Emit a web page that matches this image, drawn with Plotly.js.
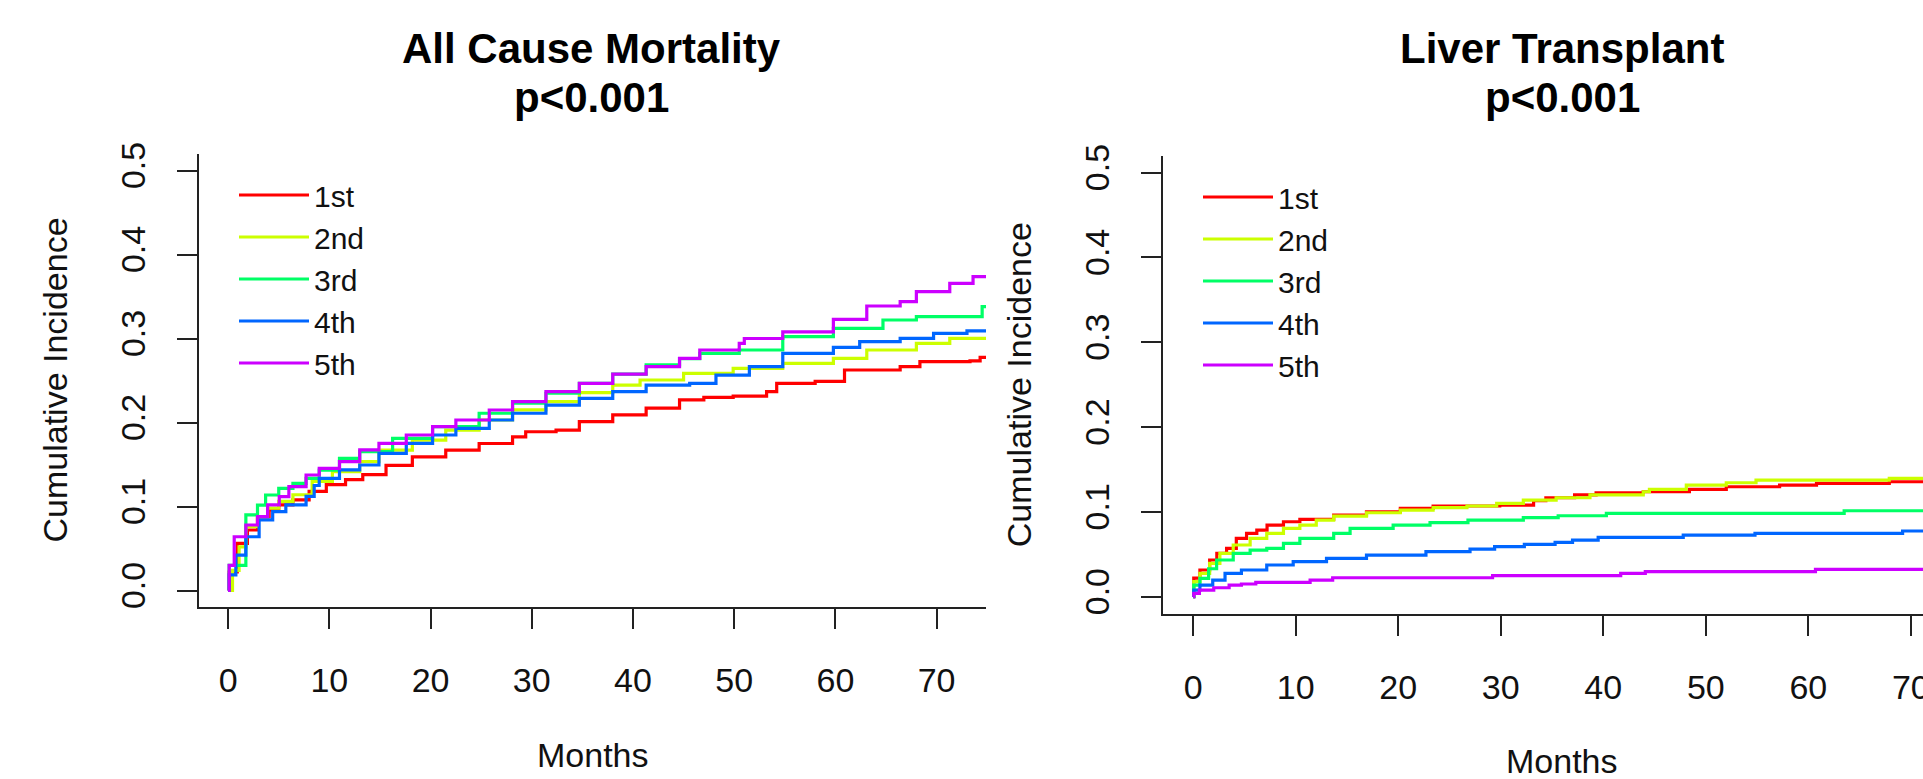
<!DOCTYPE html>
<html><head><meta charset="utf-8">
<script src="https://cdn.plot.ly/plotly-3.0.1.min.js"></script>
<style>html,body{margin:0;padding:0;background:#fff;} #chart{width:1923px;height:779px;}</style>
</head><body><div id="chart"></div>
<script>
// ---------- data ----------
const groups = ['1st', '2nd', '3rd', '4th', '5th'];
const colors = ['#FF0000', '#CCFF00', '#00FF66', '#0066FF', '#CC00FF'];
const xTickVals = [0, 10, 20, 30, 40, 50, 60, 70];
const yTickVals = [0, 0.1, 0.2, 0.3, 0.4, 0.5];
const titleLeft = 'All Cause Mortality';
const titleRight = 'Liver Transplant';
const pLeft = 'p&lt;0.001';
const pRight = 'p&lt;0.001';
const xLabel = 'Months';
const yLabel = 'Cumulative Incidence';

// All Cause Mortality: step points (month, cumulative incidence)
const mort1stMonths = [0,0.1,0.9,1.9,2.9,4.05,5.0,6.4,8.0,9.7,11.6,13.3,15.6,18.2,21.5,24.8,28.1,29.4,32.4,34.7,38.0,41.3,44.6,47.0,49.9,53.2,54.2,58.0,60.9,66.4,68.35,73.3,74.3,75.1];
const mort1stCI     = [0,0.022,0.056,0.072,0.088,0.096,0.102,0.108,0.118,0.126,0.132,0.138,0.149,0.159,0.167,0.175,0.183,0.189,0.191,0.201,0.209,0.217,0.227,0.230,0.2315,0.2367,0.2466,0.249,0.2625,0.2665,0.2724,0.2734,0.2776,0.2776];
const mort2ndMonths = [0,0.43,1.08,1.75,2.9,3.9,5.0,6.4,8.3,10.3,13.0,14.9,18.2,21.5,24.8,28.1,31.4,34.7,38.0,40.7,45.0,49.9,54.8,59.8,63.1,68.0,71.3,75.1];
const mort2ndCI     = [0,0.024,0.052,0.076,0.086,0.098,0.106,0.114,0.130,0.1415,0.1534,0.167,0.179,0.191,0.203,0.215,0.2248,0.2355,0.2446,0.2506,0.2585,0.2645,0.2705,0.2764,0.2863,0.2943,0.3002,0.304];
const mort3rdMonths = [0,0.1,1.75,2.9,3.7,5.0,6.4,7.7,9.0,11.0,13.0,16.25,20.2,24.8,28.1,31.4,34.7,38.0,41.3,44.6,46.6,50.5,54.8,59.8,64.7,68.0,74.5,75.1];
const mort3rdCI     = [0,0.03,0.09,0.1017,0.1137,0.1216,0.1276,0.1336,0.1434,0.1574,0.1653,0.1812,0.195,0.211,0.2229,0.2348,0.2466,0.2577,0.2685,0.276,0.2824,0.2863,0.3022,0.3121,0.322,0.326,0.338,0.338];
const mort4thMonths = [0,0.1,0.76,1.75,3.06,4.4,5.7,7.7,8.5,9.0,11.0,13.0,14.9,17.6,20.2,22.5,25.8,28.1,31.4,34.7,38.0,41.3,45.6,48.2,51.5,54.8,59.8,62.4,66.4,69.7,73.0,75.1];
const mort4thCI     = [0,0.0185,0.042,0.064,0.084,0.094,0.102,0.112,0.125,0.1336,0.1435,0.1494,0.1633,0.1752,0.1851,0.1931,0.203,0.211,0.2208,0.2288,0.2367,0.2446,0.2466,0.2565,0.2665,0.2824,0.2895,0.2962,0.3002,0.3062,0.309,0.309];
const mort5thMonths = [0,0.1,0.6,1.75,2.9,3.9,5.05,6.0,7.7,9.0,11.0,13.0,14.9,17.6,20.2,22.5,25.8,28.1,31.4,34.7,38.0,41.3,44.6,46.6,50.5,51.0,54.8,59.8,63.1,66.4,68.0,71.3,73.6,75.1];
const mort5thCI     = [0,0.03,0.064,0.078,0.088,0.102,0.1117,0.1236,0.1375,0.1455,0.1534,0.1673,0.1752,0.1851,0.195,0.203,0.2149,0.2248,0.2367,0.2466,0.2577,0.2665,0.2764,0.2863,0.2943,0.300,0.308,0.3228,0.3387,0.3438,0.3557,0.3657,0.3736,0.3736];

// Liver Transplant
const lt1stMonths = [0,0.05,0.65,1.6,2.3,3.25,4.2,5.2,6.2,7.2,8.8,10.4,13.7,16.9,20.2,23.4,29.9,33.2,34.4,37.2,39.3,43.9,48.4,52.0,57.2,60.8,67.9,72];
const lt1stCI     = [0,0.022,0.0315,0.0433,0.0511,0.057,0.0688,0.0747,0.0786,0.0845,0.0884,0.0912,0.0963,0.1002,0.1042,0.107,0.1081,0.1132,0.1167,0.12,0.1226,0.1238,0.1267,0.1297,0.1317,0.1337,0.1356,0.1356];
const lt2ndMonths = [0,0.05,0.65,1.6,2.6,3.9,5.55,7.17,8.8,10.4,12.0,13.7,16.9,20.2,23.4,26.7,29.6,32.2,35.4,38.7,43.9,44.5,48.1,52.0,54.9,67.9,72];
const lt2ndCI     = [0,0.0177,0.0276,0.0393,0.0511,0.061,0.0688,0.0747,0.0806,0.0845,0.0904,0.0951,0.099,0.1022,0.105,0.107,0.1101,0.114,0.1167,0.12,0.1238,0.1267,0.1317,0.1344,0.1376,0.1396,0.1396];
const lt3rdMonths = [0,0.05,0.65,1.5,2.28,3.9,5.55,7.17,8.8,10.4,13.7,15.3,19.5,23.1,26.8,32.2,35.6,40.3,63.5,72];
const lt3rdCI     = [0,0.0138,0.0217,0.033,0.0433,0.0511,0.055,0.057,0.063,0.0688,0.0747,0.0806,0.0845,0.0873,0.0904,0.0932,0.0955,0.0983,0.1014,0.1014];
const lt4thMonths = [0,0.05,0.65,1.9,3.1,4.7,7.17,9.75,13.0,16.9,22.7,27.0,29.4,32.3,35.3,37.0,39.5,47.8,54.8,69.2,72];
const lt4thCI     = [0,0.0079,0.0138,0.0197,0.0276,0.0315,0.0374,0.0413,0.0452,0.0491,0.0531,0.0562,0.059,0.0618,0.0641,0.0668,0.07,0.0727,0.0747,0.0775,0.0775];
const lt5thMonths = [0,0.05,0.6,2.0,3.5,4.7,6.1,11.4,13.6,29.2,41.7,44.1,60.7,72];
const lt5thCI     = [0,0.004,0.0079,0.0106,0.0138,0.015,0.017,0.0197,0.0224,0.0248,0.0276,0.0295,0.0323,0.0323];

// ---------- build ----------
const mortSeries = [[mort1stMonths, mort1stCI],[mort2ndMonths, mort2ndCI],[mort3rdMonths, mort3rdCI],[mort4thMonths, mort4thCI],[mort5thMonths, mort5thCI]];
const ltSeries = [[lt1stMonths, lt1stCI],[lt2ndMonths, lt2ndCI],[lt3rdMonths, lt3rdCI],[lt4thMonths, lt4thCI],[lt5thMonths, lt5thCI]];

const FONT = 'Liberation Sans, Arial, Helvetica, sans-serif';
const W = 1923, H = 779;
const px = v => v / W;
const py = v => (H - v) / H;

const traces = [];
groups.forEach((g, i) => {
  traces.push({x: mortSeries[i][0], y: mortSeries[i][1], type: 'scatter', mode: 'lines',
    line: {shape: 'hv', color: colors[i], width: 3.2}, name: g, xaxis: 'x', yaxis: 'y', legend: 'legend', hoverinfo: 'x+y+name'});
});
groups.forEach((g, i) => {
  traces.push({x: ltSeries[i][0], y: ltSeries[i][1], type: 'scatter', mode: 'lines',
    line: {shape: 'hv', color: colors[i], width: 3.2}, name: g, xaxis: 'x2', yaxis: 'y2', legend: 'legend2', hoverinfo: 'x+y+name'});
});

const axisBase = {
  showgrid: false, zeroline: false, showline: true, linecolor: '#222', linewidth: 2,
  ticks: 'outside', ticklen: 20, tickwidth: 2, tickcolor: '#222',
  tickfont: {family: FONT, size: 34, color: '#111'}, fixedrange: true, ticklabeloverflow: 'allow'
};
const xAxisBase = Object.assign({}, axisBase, {tickmode: 'array', tickvals: xTickVals, ticklabelstandoff: 22});
const yAxisBase = Object.assign({}, axisBase, {tickmode: 'array', tickvals: yTickVals, tickformat: '.1f', tickangle: -90, range: [-0.02, 0.52], ticklabelstandoff: 18});

const legendBase = {xanchor: 'left', yanchor: 'top', bgcolor: 'rgba(0,0,0,0)', borderwidth: 0,
  font: {family: FONT, size: 30, color: '#111'}, itemwidth: 70, tracegroupgap: 0, traceorder: 'normal'};

const annFont = {family: FONT, size: 34, color: '#111'};
const titleFont = {family: FONT, size: 42, color: '#000'};
const layout = {
  width: W, height: H, margin: {l: 0, r: 0, t: 0, b: 0},
  paper_bgcolor: '#fff', plot_bgcolor: '#fff', showlegend: true,
  xaxis: Object.assign({}, xAxisBase, {domain: [px(199), px(986)], range: [-2.88, 74.88], anchor: 'y'}),
  yaxis: Object.assign({}, yAxisBase, {domain: [py(607.3), py(153.7)], anchor: 'x'}),
  xaxis2: Object.assign({}, xAxisBase, {domain: [px(1162.5), 1], range: [-3.0, 71.19], anchor: 'y2'}),
  yaxis2: Object.assign({}, yAxisBase, {domain: [py(613.7), py(155.7)], anchor: 'x2'}),
  legend: Object.assign({}, legendBase, {x: px(234), y: py(169)}),
  legend2: Object.assign({}, legendBase, {x: px(1198), y: py(171)}),
  annotations: [
    {text: '<b>' + titleLeft + '</b>', xref: 'paper', yref: 'paper', x: px(591), y: py(48), xanchor: 'center', yanchor: 'middle', showarrow: false, font: titleFont},
    {text: '<b>' + pLeft + '</b>', xref: 'paper', yref: 'paper', x: px(591), y: py(97.5), xanchor: 'center', yanchor: 'middle', showarrow: false, font: titleFont},
    {text: '<b>' + titleRight + '</b>', xref: 'paper', yref: 'paper', x: px(1562), y: py(48), xanchor: 'center', yanchor: 'middle', showarrow: false, font: titleFont},
    {text: '<b>' + pRight + '</b>', xref: 'paper', yref: 'paper', x: px(1562), y: py(97.5), xanchor: 'center', yanchor: 'middle', showarrow: false, font: titleFont},
    {text: xLabel, xref: 'paper', yref: 'paper', x: px(593), y: py(755), xanchor: 'center', yanchor: 'middle', showarrow: false, font: annFont},
    {text: xLabel, xref: 'paper', yref: 'paper', x: px(1562), y: py(761), xanchor: 'center', yanchor: 'middle', showarrow: false, font: annFont},
    {text: yLabel, xref: 'paper', yref: 'paper', x: px(54), y: py(380.5), xanchor: 'center', yanchor: 'middle', textangle: -90, showarrow: false, font: annFont},
    {text: yLabel, xref: 'paper', yref: 'paper', x: px(1018.5), y: py(384.7), xanchor: 'center', yanchor: 'middle', textangle: -90, showarrow: false, font: annFont}
  ]
};

Plotly.newPlot('chart', traces, layout, {displayModeBar: false, staticPlot: true});
</script>
</body></html>
